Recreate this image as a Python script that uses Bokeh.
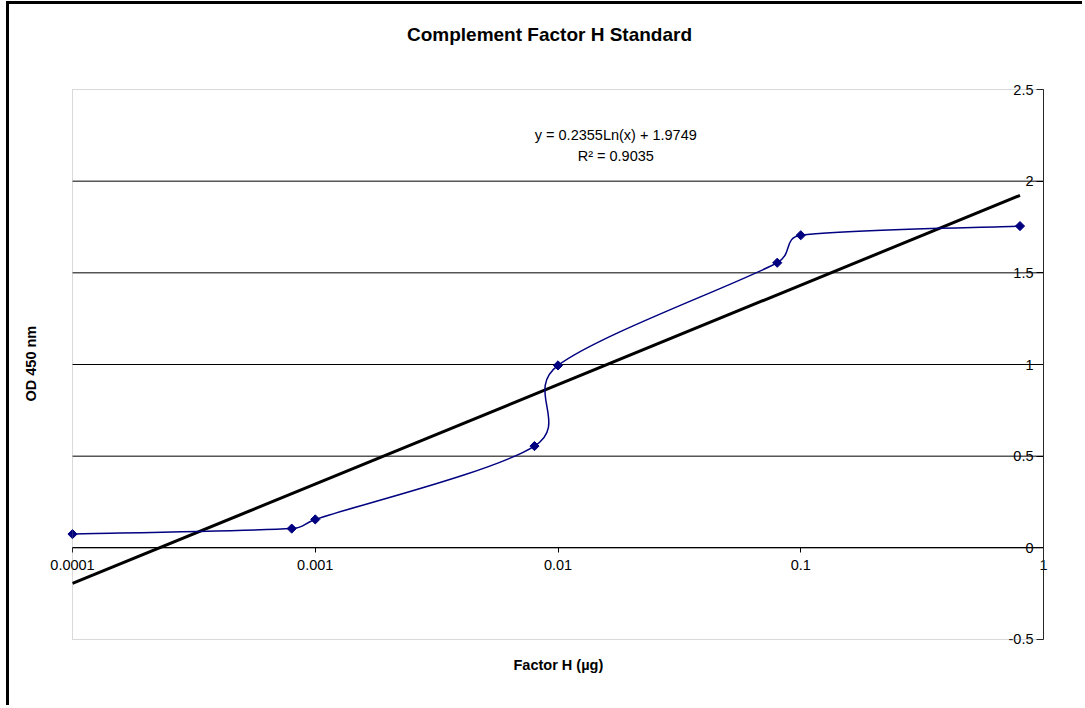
import numpy as np
from bokeh.plotting import figure
from bokeh.models import (Range1d, FixedTicker, CustomJSTickFormatter, Title, Label,
                          BoxAnnotation, ColumnDataSource)
from bokeh.embed import file_html
from bokeh.resources import INLINE

# ---- data ----
factor_h = [0.0001, 0.0008, 0.001, 0.008, 0.01, 0.08, 0.1, 0.8]
od450 = [0.075, 0.105, 0.155, 0.555, 0.995, 1.555, 1.705, 1.755]
trend_slope = 0.2355
trend_intercept = 1.9749
r_squared = 0.9035
x_ticks = [0.0001, 0.001, 0.01, 0.1, 1]
x_tick_labels = ["0.0001", "0.001", "0.01", "0.1", "1"]
y_ticks = [-0.5, 0, 0.5, 1, 1.5, 2, 2.5]
y_tick_labels = ["-0.5", "0", "0.5", "1", "1.5", "2", "2.5"]
y_grid = [0, 0.5, 1, 1.5, 2]
chart_title = "Complement Factor H Standard"
x_title = "Factor H (µg)"
y_title = "OD 450 nm"

FONT = "Liberation Sans"
NAVY = "#000080"

# plot-area geometry (pixels) used for padding of the frame and curve smoothing
PX_PER_DECADE = 242.75
PX_PER_UNIT = 183.33
PAD_L, PAD_R, PAD_T, PAD_B = 30, 10, 72, 10

x_lo, x_hi = x_ticks[0], x_ticks[-1]
y_lo, y_hi = y_ticks[0], y_ticks[-1]

x_range = Range1d(10 ** (np.log10(x_lo) - PAD_L / PX_PER_DECADE),
                  10 ** (np.log10(x_hi) + PAD_R / PX_PER_DECADE))
y_range = Range1d(y_lo - PAD_B / PX_PER_UNIT, y_hi + PAD_T / PX_PER_UNIT)

p = figure(width=1076, height=704, x_axis_type="log",
           x_range=x_range, y_range=y_range,
           output_backend="svg", toolbar_location=None,
           min_border_left=33, min_border_right=32, min_border_top=13,
           min_border_bottom=59, background_fill_color="white",
           border_fill_color="white")
p.styles = {"border-left": "3px solid black", "border-top": "3px solid black",
            "margin-left": "6px", "margin-top": "1px"}

p.outline_line_color = None

# grid lines limited to the plot area
p.xgrid.visible = False
p.ygrid.visible = False
p.segment(x0=[x_lo] * len(y_grid), x1=[x_hi] * len(y_grid), y0=y_grid, y1=y_grid,
          line_color="black", line_width=1)

# plot-area border
p.add_layout(BoxAnnotation(left=x_lo, right=x_hi, bottom=y_lo, top=y_hi,
                           fill_color=None, line_color="#808080", line_width=1))

fmt_code = """
for (let i = 0; i < vals.length; i++) {
  if (Math.abs(vals[i] - tick) <= 1e-12 + 1e-6 * Math.abs(tick)) return labels[i];
}
return String(tick);
"""

# x axis drawn at y = 0
xa = p.xaxis[0]
xa.ticker = FixedTicker(ticks=x_ticks)
xa.formatter = CustomJSTickFormatter(args=dict(vals=x_ticks, labels=x_tick_labels), code=fmt_code)
xa.fixed_location = 0
xa.bounds = (x_lo, x_hi)
xa.axis_line_color = "black"
xa.major_tick_line_color = "black"
xa.major_tick_out = 5
xa.major_tick_in = 0
xa.minor_tick_line_color = None
xa.major_label_standoff = 7
xa.major_label_text_font = FONT
xa.major_label_text_font_size = "14.5px"
xa.major_label_text_color = "black"

# y axis drawn at x = 1 (right edge), labels inside
ya = p.yaxis[0]
ya.ticker = FixedTicker(ticks=y_ticks)
ya.formatter = CustomJSTickFormatter(args=dict(vals=y_ticks, labels=y_tick_labels), code=fmt_code)
ya.fixed_location = x_hi
ya.bounds = (y_lo, y_hi)
ya.axis_line_color = "black"
ya.major_tick_line_color = "black"
ya.major_tick_out = 7
ya.major_tick_in = 0
ya.minor_tick_line_color = None
ya.major_label_standoff = 3
ya.major_label_text_font = FONT
ya.major_label_text_font_size = "14.5px"
ya.major_label_text_color = "black"

# chart title, placed above the plot area
p.add_layout(Label(x=10 ** -2.035, y=2.80, text=chart_title,
                   text_align="center", text_baseline="middle", text_font=FONT,
                   text_font_size="19px", text_font_style="bold", text_color="black"))

# axis titles
p.add_layout(Title(text=y_title, align="left", offset=248, text_font=FONT, text_color="black",
                   text_font_size="14.5px", text_font_style="bold", standoff=8), "left")
p.add_layout(Title(text=x_title, align="left", offset=471, text_font=FONT,
                   text_color="black", text_font_size="14.5px", text_font_style="bold",
                   standoff=10), "below")

# trend line (logarithmic fit)
x_trend = [min(factor_h), max(factor_h)]
y_trend = [trend_slope * np.log(x) + trend_intercept for x in x_trend]
p.line(x_trend, y_trend, line_color="black", line_width=3)

# smoothed data line: Excel-style Bezier segments computed in screen proportions
U = np.log10(factor_h) * PX_PER_DECADE
V = np.array(od450) * PX_PER_UNIT
n = len(U)
x0, y0, x1, y1, cx0, cy0, cx1, cy1 = [], [], [], [], [], [], [], []
for i in range(n - 1):
    im1 = max(i - 1, 0)
    ip2 = min(i + 2, n - 1)
    d12 = np.hypot(U[i + 1] - U[i], V[i + 1] - V[i])
    t1 = np.array([U[i + 1] - U[im1], V[i + 1] - V[im1]]) / 6
    t2 = np.array([U[ip2] - U[i], V[ip2] - V[i]]) / 6
    for t in (t1, t2):
        L = np.hypot(*t)
        if L > d12 / 2:
            t *= (d12 / 2) / L
    c0 = (U[i] + t1[0], V[i] + t1[1])
    c1 = (U[i + 1] - t2[0], V[i + 1] - t2[1])
    x0.append(factor_h[i]); y0.append(od450[i])
    x1.append(factor_h[i + 1]); y1.append(od450[i + 1])
    cx0.append(10 ** (c0[0] / PX_PER_DECADE)); cy0.append(c0[1] / PX_PER_UNIT)
    cx1.append(10 ** (c1[0] / PX_PER_DECADE)); cy1.append(c1[1] / PX_PER_UNIT)
bez = ColumnDataSource(dict(x0=x0, y0=y0, x1=x1, y1=y1, cx0=cx0, cy0=cy0, cx1=cx1, cy1=cy1))
p.bezier(x0="x0", y0="y0", x1="x1", y1="y1", cx0="cx0", cy0="cy0", cx1="cx1", cy1="cy1",
         source=bez, line_color=NAVY, line_width=1.5)

p.scatter(factor_h, od450, marker="square", angle=np.pi / 4, size=6.5,
          fill_color=NAVY, line_color=NAVY)

# equation labels
p.add_layout(Label(x=0.0173, y=2.25, text=f"y = {trend_slope}Ln(x) + {trend_intercept}",
                   text_align="center", text_baseline="middle", text_font=FONT,
                   text_font_size="14.5px", text_color="black"))
p.add_layout(Label(x=0.0173, y=2.14, text=f"R² = {r_squared}",
                   text_align="center", text_baseline="middle", text_font=FONT,
                   text_font_size="14.5px", text_color="black"))

open("out.html", "w").write(file_html(p, INLINE))
